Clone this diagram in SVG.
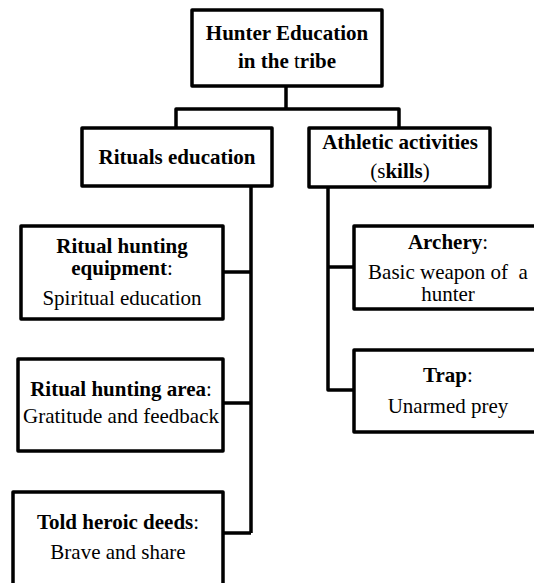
<svg xmlns="http://www.w3.org/2000/svg" width="534" height="583" viewBox="0 0 534 583">
<style>
.box{fill:#fff;stroke:#000;stroke-width:3.5;stroke-linejoin:round}
.con{fill:none;stroke:#000;stroke-width:3.5;stroke-linejoin:round}
.t{font-family:"Liberation Serif","Times New Roman",serif;font-size:21px;fill:#000;text-anchor:middle}
.b{font-weight:bold}
.r{font-weight:normal}
</style>
<rect width="534" height="583" fill="#fff"/>
<g id="connectors">
<path class="con" d="M286,86 V109 M176,128 V109 H399 V128"/>
<path class="con" d="M251,186 V533 M223,272 H251 M223,403 H251 M223,533 H251"/>
<path class="con" d="M328,187 V390 H354 M328,267 H354"/>
</g>
<g id="hunter-education">
<rect class="box" x="192" y="10" width="190" height="76"/>
<text class="t b" x="287" y="40">Hunter Education</text>
<text class="t b" x="287" y="68">in the <tspan class="r">t</tspan>ribe</text>
</g>
<g id="rituals-education">
<rect class="box" x="82" y="128" width="190" height="58"/>
<text class="t b" x="177" y="164">Rituals education</text>
</g>
<g id="athletic-activities">
<rect class="box" x="309" y="128" width="181" height="59"/>
<text class="t b" x="400" y="149">Athletic activities</text>
<text class="t" x="400" y="178">(s<tspan class="b">kills</tspan>)</text>
</g>
<g id="ritual-hunting-equipment">
<rect class="box" x="21" y="226" width="202" height="93"/>
<text class="t b" x="122" y="253">Ritual hunting</text>
<text class="t" x="122" y="275"><tspan class="b">equipment</tspan>:</text>
<text class="t" x="122" y="305">Spiritual education</text>
</g>
<g id="ritual-hunting-area">
<rect class="box" x="18" y="359" width="205" height="92"/>
<text class="t" x="121" y="396"><tspan class="b">Ritual hunting area</tspan>:</text>
<text class="t" x="121" y="423">Gratitude and feedback</text>
</g>
<g id="told-heroic-deeds">
<rect class="box" x="13" y="492" width="210" height="100"/>
<text class="t" x="118" y="529"><tspan class="b">Told heroic deeds</tspan>:</text>
<text class="t" x="118" y="559">Brave and share</text>
</g>
<g id="archery">
<rect class="box" x="354" y="226" width="190" height="83"/>
<text class="t" x="448" y="249"><tspan class="b">Archery</tspan>:</text>
<text class="t" x="448" y="279" xml:space="preserve">Basic weapon of  a</text>
<text class="t" x="448" y="301">hunter</text>
</g>
<g id="trap">
<rect class="box" x="354" y="350" width="190" height="82"/>
<text class="t" x="448" y="382"><tspan class="b">Trap</tspan>:</text>
<text class="t" x="448" y="413">Unarmed prey</text>
</g>
</svg>
